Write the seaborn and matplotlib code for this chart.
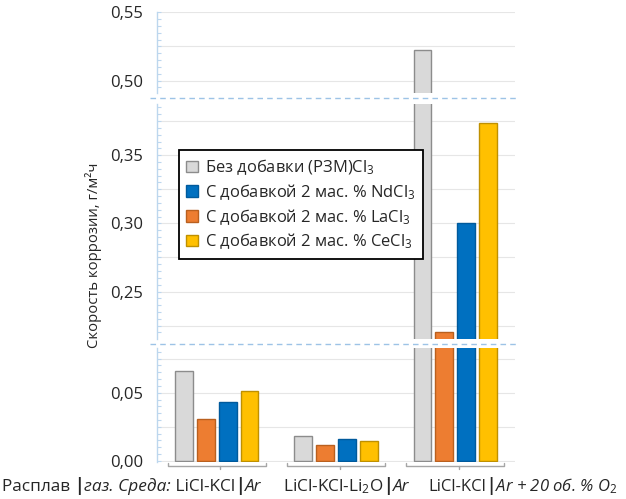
import numpy as np
import pandas as pd
import matplotlib
matplotlib.use("Agg")
import matplotlib.pyplot as plt
import seaborn as sns
from matplotlib.patches import Patch
from matplotlib.lines import Line2D
from matplotlib.ticker import MultipleLocator, FixedLocator, FixedFormatter

# ---------------- data ----------------
categories = ["LiCl-KCl|Ar", "LiCl-KCl-Li2O|Ar", "LiCl-KCl|Ar+20O2"]
series = ["Без добавки (РЗМ)Cl$_3$",
          "С добавкой 2 мас. % LaCl$_3$",
          "С добавкой 2 мас. % NdCl$_3$",
          "С добавкой 2 мас. % CeCl$_3$"]
val_none = [0.066, 0.0184, 0.522]
val_la = [0.0307, 0.0115, 0.2205]
val_nd = [0.0434, 0.0157, 0.3005]
val_ce = [0.0515, 0.0145, 0.3735]
legend_order = [0, 2, 1, 3]

face_colors = ["#d9d9d9", "#ed7d31", "#0070c0", "#ffc000"]
edge_colors = ["#8c8c8c", "#b9601f", "#005a9c", "#bf9000"]

rows = []
for s, vals in zip(series, [val_none, val_la, val_nd, val_ce]):
    for c, v in zip(categories, vals):
        rows.append({"cat": c, "series": s, "value": v})
df = pd.DataFrame(rows)

# ---------------- figure ----------------
sns.set_theme(style="white")
plt.rcParams["font.family"] = ["Open Sans", "DejaVu Sans"]
plt.rcParams["mathtext.fontset"] = "custom"
plt.rcParams["mathtext.rm"] = "Open Sans"
plt.rcParams["mathtext.it"] = "Open Sans:italic"

W, H = 626, 499
fig = plt.figure(figsize=(W / 100, H / 100), dpi=100)
fig.patch.set_facecolor("white")

def fx(px):
    return px / W

def fy(py):
    return 1 - py / H

left_px, width_px = 157, 358
px_per = 68.2 / 0.05  # pixels per data unit

# segments: (top pixel, bottom pixel, top value)
segments = [
    (12.3, 93.0, 0.55, [0.50, 0.55], np.arange(0.50, 0.551, 0.025)),
    (104.0, 339.0, 0.3875, [0.25, 0.30, 0.35], np.arange(0.225, 0.376, 0.025)),
    (348.0, 461.5, None, [0.0, 0.05], np.arange(0.0, 0.076, 0.025)),
]

axes = []
for (tp, bp, topv, ticks, grids) in segments:
    ax = fig.add_axes([fx(left_px), fy(bp), width_px / W, (bp - tp) / H])
    if topv is None:
        lo = -0.6 / px_per
        hi = lo + (bp - tp) / px_per
    else:
        hi = topv
        lo = hi - (bp - tp) / px_per
    for g in grids:
        ax.axhline(g, color="#e6e6e6", lw=0.8, zorder=0)
    sns.barplot(data=df, x="cat", y="value", hue="series", order=categories,
                hue_order=series, palette=face_colors, saturation=1,
                width=0.733, gap=0.18,
                linewidth=1.0, ax=ax, legend=False, zorder=2)
    for cont, ec in zip(ax.containers, edge_colors):
        for p in cont:
            p.set_edgecolor(ec)
    ax.set_ylim(lo, hi)
    ax.set_xlim(-0.5, 2.5)
    ax.set_xlabel("")
    ax.set_ylabel("")
    ax.set_xticks([])
    for sp in ["top", "right", "bottom"]:
        ax.spines[sp].set_visible(False)
    ax.spines["left"].set_color("#bdd7ee")
    ax.spines["left"].set_linewidth(1.0)
    ax.yaxis.set_major_locator(FixedLocator(ticks))
    ax.yaxis.set_major_formatter(FixedFormatter([f"{t:.2f}".replace(".", ",") for t in ticks]))
    ax.yaxis.set_minor_locator(MultipleLocator(0.005))
    ax.tick_params(axis="y", which="both", direction="in", color="#bdd7ee",
                   length=3, width=0.8, left=True, labelsize=12,
                   labelcolor="#262626", pad=10)
    ax.patch.set_alpha(0)
    axes.append(ax)

# break markers
for yb in [97.5, 343.5]:
    fig.add_artist(Line2D([fx(150), fx(517)], [fy(yb), fy(yb)], color="#9dc3e6",
                          lw=1.0, ls=(0, (4, 3))))

# category brackets under bottom axis
axb = axes[2]
tr = axb.get_xaxis_transform()
yb = -(466 - 461.5) / (461.5 - 348.0)
tick_h = 3.0 / (461.5 - 348.0)
for i in range(len(categories)):
    xl, xr = i - 0.41, i + 0.41
    axb.plot([xl, xl, xr, xr], [yb + tick_h, yb, yb, yb + tick_h], transform=tr,
             color="#a6a6a6", lw=1.0, clip_on=False, solid_capstyle="round")
    axb.plot([i + 0.03, i + 0.03], [yb, yb - tick_h], transform=tr,
             color="#a6a6a6", lw=1.0, clip_on=False)

# y label
fig.text(fx(94), fy(255), "Скорость коррозии, г/м²ч", rotation=90,
         ha="center", va="center", fontsize=10.7, color="#262626")

# legend
handles = [Patch(facecolor=face_colors[i], edgecolor=edge_colors[i], lw=1.0)
           for i in legend_order]
labels = [series[i] for i in legend_order]
leg = fig.legend(handles, labels, loc="upper left",
                 bbox_to_anchor=(fx(179), fy(150)), bbox_transform=fig.transFigure,
                 fontsize=11.9, frameon=True, fancybox=False, borderaxespad=0,
                 handlelength=0.7, handleheight=0.7, handletextpad=0.45,
                 labelspacing=0.3, borderpad=0.45)
leg.get_frame().set_edgecolor("black")
leg.get_frame().set_linewidth(1.3)
leg.get_frame().set_facecolor("white")
leg.get_frame().set_alpha(1)
for t in leg.get_texts():
    t.set_color("#262626")

# x-category labels with mixed styles
renderer = fig.canvas.get_renderer()

def rich(x_px, y_px, parts, size=12.4):
    x = x_px
    for s, kw in parts:
        t = fig.text(fx(x), fy(y_px), s, fontsize=size, ha="left", va="baseline",
                     color="#262626", **kw)
        bb = t.get_window_extent(renderer=renderer)
        x += bb.width

reg = {}
bold = {"fontweight": "bold"}
ital = {"style": "italic"}
rich(2, 491, [("Расплав ", reg), ("|", bold), ("газ. Среда:", ital),
              (" LiCl-KCl", reg), ("|", bold), ("Ar", ital)])
rich(283, 491, [("LiCl-KCl-Li$_2$O", reg), ("|", bold), ("Ar", ital)])
rich(428, 491, [("LiCl-KCl", reg), ("|", bold), ("Ar + 20 об. % O$_2$", ital)],
     size=12.0)

fig.savefig("out.png", dpi=100, facecolor="white")
